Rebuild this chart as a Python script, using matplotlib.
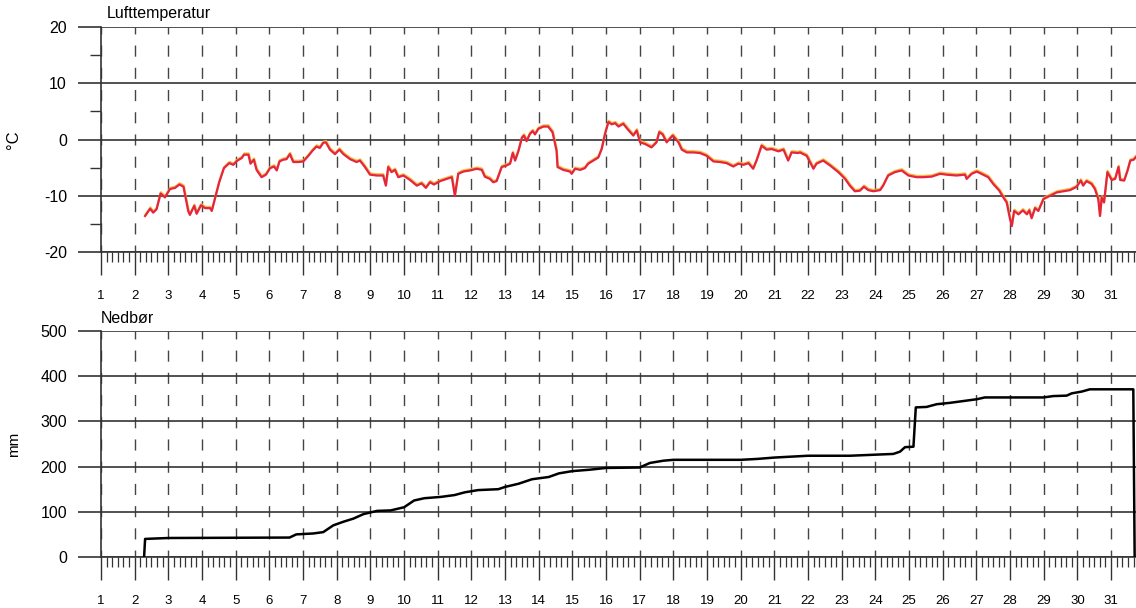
import numpy as np
import matplotlib.pyplot as plt
import matplotlib.patheffects as pe
from matplotlib.ticker import MultipleLocator, AutoMinorLocator

plt.rcParams['font.family'] = ['Liberation Sans', 'DejaVu Sans']
plt.rcParams['axes.unicode_minus'] = False

# Lufttemperatur (day of month, degC)
temp_day = [2.31, 2.46, 2.55, 2.65, 2.77, 2.90, 3.05, 3.20, 3.33, 3.45, 3.59, 3.64, 3.77, 3.84,
            3.97, 4.09, 4.24, 4.29, 4.39, 4.51, 4.65, 4.81, 4.93, 5.05, 5.18, 5.25, 5.38, 5.44,
            5.54, 5.62, 5.77, 5.90, 6.02, 6.14, 6.22, 6.30, 6.41, 6.51, 6.61, 6.71, 6.86, 7.01,
            7.16, 7.28, 7.40, 7.50, 7.60, 7.68, 7.80, 7.95, 8.08, 8.20, 8.40, 8.59, 8.69, 8.84,
            8.99, 9.19, 9.38, 9.46, 9.53, 9.63, 9.73, 9.83, 9.98, 10.18, 10.38, 10.52, 10.65,
            10.77, 10.89, 11.07, 11.27, 11.42, 11.51, 11.61, 11.76, 11.96, 12.16, 12.31, 12.40,
            12.55, 12.65, 12.75, 12.90, 13.05, 13.15, 13.23, 13.30, 13.40, 13.50, 13.56, 13.64,
            13.74, 13.82, 13.89, 13.99, 14.14, 14.28, 14.41, 14.53, 14.56, 14.73, 14.93, 14.98,
            15.08, 15.23, 15.37, 15.47, 15.62, 15.77, 15.87, 15.97, 16.07, 16.17, 16.27, 16.37,
            16.51, 16.66, 16.81, 16.91, 17.01, 17.16, 17.35, 17.50, 17.58, 17.68, 17.80, 17.98,
            18.15, 18.25, 18.40, 18.59, 18.79, 18.99, 19.19, 19.38, 19.58, 19.78, 19.93, 20.08,
            20.23, 20.37, 20.47, 20.62, 20.77, 20.92, 21.12, 21.27, 21.41, 21.51, 21.71, 21.76,
            21.96, 22.16, 22.25, 22.45, 22.65, 22.90, 23.10, 23.24, 23.39, 23.54, 23.66, 23.79,
            23.94, 24.14, 24.23, 24.38, 24.58, 24.78, 24.98, 25.22, 25.42, 25.67, 25.92, 26.11,
            26.41, 26.66, 26.71, 26.86, 27.01, 27.15, 27.35, 27.50, 27.68, 27.80, 27.90, 28.00,
            28.05, 28.12, 28.25, 28.38, 28.50, 28.57, 28.64, 28.74, 28.84, 28.99, 29.19, 29.39,
            29.58, 29.78, 29.98, 30.10, 30.17, 30.27, 30.42, 30.52, 30.62, 30.67, 30.72, 30.79,
            30.89, 31.02, 31.12, 31.22, 31.27, 31.39, 31.49, 31.57, 31.67, 31.77]
temp_val = [-13.6, -12.3, -13.0, -12.4, -9.6, -10.3, -8.8, -8.6, -8.0, -8.4, -12.7, -13.4, -11.8, -13.2,
            -11.7, -12.2, -12.2, -12.7, -10.4, -7.6, -5.1, -4.2, -4.5, -3.75, -3.3, -2.7, -2.7, -4.3,
            -3.6, -5.4, -6.7, -6.25, -5.1, -4.8, -5.5, -3.9, -3.6, -3.5, -2.6, -4.0, -4.0, -3.9,
            -2.9, -2.0, -1.25, -1.5, -0.6, -0.5, -1.8, -2.6, -1.8, -2.6, -3.5, -4.0, -3.75, -4.9,
            -6.25, -6.4, -6.4, -8.2, -4.9, -5.8, -5.4, -6.7, -6.4, -7.2, -8.2, -7.8, -8.6,
            -7.6, -8.0, -7.4, -7.0, -6.7, -10.0, -6.1, -5.7, -5.5, -5.2, -5.4, -6.6,
            -7.0, -7.6, -7.4, -4.9, -4.6, -4.3, -2.4, -3.75, -2.0, 0.3, 0.7, -0.3,
            1.0, 1.5, 0.9, 1.9, 2.3, 2.3, 1.3, -2.0, -4.9, -5.4, -5.7, -6.1,
            -5.2, -5.4, -5.1, -4.3, -3.75, -3.2, -1.7, 1.0, 3.1, 2.7, 2.9, 2.3,
            2.8, 1.7, 0.7, 1.6, -0.5, -0.8, -1.4, -0.5, 1.3, 0.9, -0.5, 0.7,
            -0.5, -1.8, -2.3, -2.3, -2.4, -2.9, -3.9, -4.0, -4.2, -4.8, -4.3, -4.5,
            -4.2, -5.2, -3.75, -1.1, -1.8, -1.7, -2.1, -1.8, -3.75, -2.3, -2.4, -2.3,
            -2.9, -5.2, -4.3, -3.75, -4.6, -5.8, -7.0, -8.2, -9.2, -9.1, -8.4, -9.0,
            -9.2, -9.0, -8.2, -6.4, -5.8, -5.5, -6.4, -6.7, -6.7, -6.6, -6.1, -6.25,
            -6.4, -6.25, -7.0, -6.1, -5.7, -6.1, -6.7, -7.9, -9.1, -10.3, -11.2, -14.2,
            -15.4, -12.7, -13.3, -12.6, -13.3, -12.6, -14.0, -12.2, -12.7, -10.6, -10.0, -9.4,
            -9.2, -9.0, -8.4, -7.3, -8.2, -7.4, -7.9, -8.8, -10.6, -13.6, -10.3, -11.2,
            -5.8, -7.2, -7.0, -4.9, -7.2, -7.3, -5.5, -3.75, -3.6, -2.9]

# Nedbør, cumulative (day of month, mm)
prec_day = [2.28, 2.31, 3.0, 6.6, 6.8, 7.3, 7.6, 7.9, 8.2, 8.5, 8.8, 9.2, 9.6, 10.0, 10.3, 10.6,
            11.1, 11.5, 11.8, 12.2, 12.8, 13.0, 13.4, 13.8, 14.3, 14.6, 15.0, 15.5, 16.0, 17.0,
            17.3, 17.7, 18.0, 20.0, 20.5, 21.0, 21.5, 22.0, 23.24, 24.53, 24.73, 24.88, 25.13,
            25.20, 25.52, 25.82, 26.21, 26.71, 27.01, 27.25, 28.20, 28.99, 29.28, 29.68, 29.83,
            30.13, 30.37, 31.66, 31.70]
prec_val = [0, 40, 42, 43, 50, 52, 55, 70, 78, 85, 95, 102, 103, 110, 125, 130,
            133, 137, 143, 148, 150, 155, 162, 172, 177, 185, 190, 193, 197, 198,
            208, 213, 215, 215, 217, 220, 222, 224, 224, 228, 233, 243, 244,
            331, 332, 338, 341, 346, 349, 353, 353, 353, 356, 357, 362,
            366, 371, 371, 0]

days = list(range(1, 32))
x_end = 31.74
grid_col = '#333333'

fig = plt.figure(figsize=(11.36, 6.08), dpi=100)
ax1 = fig.add_axes([0.0889, 0.5855, 0.9111, 0.3701])
ax2 = fig.add_axes([0.0889, 0.0839, 0.9111, 0.3717])


def style_axis(ax, ylim, ystep, yminor):
    ax.set_xlim(1, x_end)
    ax.set_ylim(*ylim)
    for s in ['top', 'right']:
        ax.spines[s].set_visible(False)
    for s in ['left', 'bottom']:
        ax.spines[s].set_color(grid_col)
        ax.spines[s].set_linewidth(1.2)
    ax.xaxis.set_minor_locator(AutoMinorLocator(6))
    ax.set_xticks(days)
    ax.set_xticklabels([str(d) for d in days])
    ax.yaxis.set_major_locator(MultipleLocator(ystep))
    if yminor:
        ax.yaxis.set_minor_locator(MultipleLocator(ystep / 2))
    ax.tick_params(axis='x', which='major', direction='out', length=16.5, width=1.0,
                   color=grid_col, pad=11, labelsize=9.5)
    ax.tick_params(axis='x', which='minor', direction='out', length=7, width=0.9, color=grid_col)
    ax.tick_params(axis='y', which='major', direction='out', length=16.5, width=1.2,
                   color=grid_col, pad=8, labelsize=11.5)
    ax.tick_params(axis='y', which='minor', direction='out', length=8, width=1.0, color=grid_col)
    ax.grid(axis='y', which='major', color=grid_col, linewidth=1.2, linestyle='-')
    ax.grid(axis='x', which='major', color='#444444', linewidth=1.0, linestyle=(3, (8, 8)))
    ax.set_axisbelow(True)


style_axis(ax1, (-20, 20), 10, True)
ax1.plot(temp_day, temp_val, color='#e5253f', linewidth=1.6, zorder=3,
         path_effects=[pe.SimpleLineShadow(offset=(0.2, 0.9), shadow_color='#f2b632', alpha=0.9),
                       pe.Normal()])
ax1.set_ylabel('°C', fontsize=12)
ax1.yaxis.set_label_coords(-0.077, 0.5)
ax1.text(0.006, 1.062, 'Lufttemperatur', transform=ax1.transAxes, fontsize=11.5,
         ha='left', va='center')

style_axis(ax2, (0, 500), 100, False)
ax2.plot(prec_day, prec_val, color='black', linewidth=1.8, zorder=3)
ax2.set_ylabel('mm', fontsize=11)
ax2.yaxis.set_label_coords(-0.077, 0.5)
ax2.text(0.0, 1.057, 'Nedbør', transform=ax2.transAxes, fontsize=11.5,
         ha='left', va='center')

fig.savefig('out.png', dpi=100, facecolor='white')
